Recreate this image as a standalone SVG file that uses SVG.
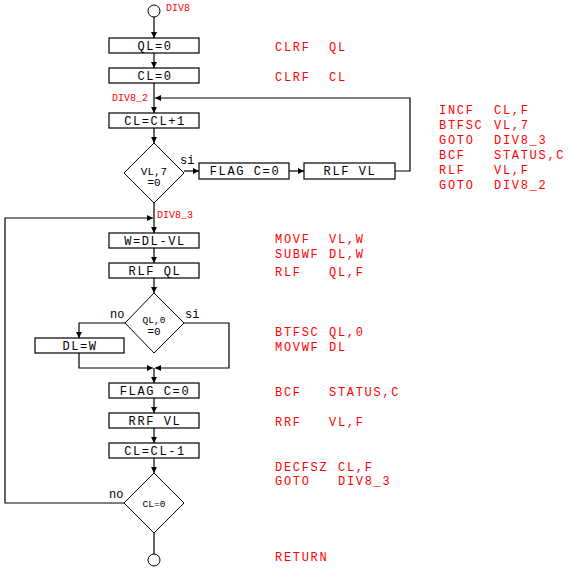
<svg xmlns="http://www.w3.org/2000/svg" width="568" height="569" viewBox="0 0 568 569">
<style>
.bg{fill:#fff}
.box{fill:#fff;stroke:#000;stroke-width:1.2}
.dia{fill:#fff;stroke:#000;stroke-width:1}
.term{fill:#fff;stroke:#000;stroke-width:1}
.bt{font-family:"Liberation Mono",monospace;font-size:12px;letter-spacing:1.6px;fill:#000;text-anchor:middle}
.dt{font-family:"Liberation Mono",monospace;font-size:11px;fill:#000;text-anchor:middle}
.ds{font-family:"Liberation Mono",monospace;font-size:9.5px;fill:#000;text-anchor:middle}
.lb{font-family:"Liberation Mono",monospace;font-size:12px;fill:#000}
.code{font-family:"Liberation Mono",monospace;font-size:12px;letter-spacing:1.7px;fill:#f00}
.tag{font-family:"Liberation Mono",monospace;font-size:10px;fill:#f00}
.con{fill:none;stroke:#000;stroke-width:1.2}
</style>
<defs>
<marker id="ah" viewBox="0 0 6 6" refX="6" refY="3" markerWidth="6" markerHeight="6" markerUnits="userSpaceOnUse" orient="auto">
<path d="M0,0 L6,3 L0,6 z" fill="#000"/>
</marker>
</defs>
<rect class="bg" x="0" y="0" width="568" height="569"/>
<g id="connectors">
<path class="con" d="M154,17 V38" marker-end="url(#ah)"/>
<path class="con" d="M154,53 V68" marker-end="url(#ah)"/>
<path class="con" d="M154,83 V113" marker-end="url(#ah)"/>
<path class="con" d="M154,128 V143" marker-end="url(#ah)"/>
<path class="con" d="M184,171 H199" marker-end="url(#ah)"/>
<path class="con" d="M289,171 H304" marker-end="url(#ah)"/>
<path class="con" d="M395,171 H410 V98 H155" marker-end="url(#ah)"/>
<path class="con" d="M154,203 V233" marker-end="url(#ah)"/>
<path class="con" d="M124,503 H5 V218 H153" marker-end="url(#ah)"/>
<path class="con" d="M154,248 V263" marker-end="url(#ah)"/>
<path class="con" d="M154,278 V293" marker-end="url(#ah)"/>
<path class="con" d="M125,323 H79 V338" marker-end="url(#ah)"/>
<path class="con" d="M184,323 H229 V368 H155" marker-end="url(#ah)"/>
<path class="con" d="M79,353 V368 H153" marker-end="url(#ah)"/>
<path class="con" d="M154,368 V383" marker-end="url(#ah)"/>
<path class="con" d="M154,398 V413" marker-end="url(#ah)"/>
<path class="con" d="M154,428 V443" marker-end="url(#ah)"/>
<path class="con" d="M154,458 V473" marker-end="url(#ah)"/>
<path class="con" d="M154,533 V554"/>
</g>
<g id="start"><circle class="term" cx="154" cy="11" r="6"/><text class="tag" x="166" y="11">DIV8</text></g>
<g id="n_ql0"><rect class="box" x="109" y="38" width="90" height="15"/><text class="bt" x="155" y="50">QL=0</text></g>
<g id="n_cl0"><rect class="box" x="109" y="68" width="90" height="15"/><text class="bt" x="155" y="80">CL=0</text></g>
<g id="lbl_div8_2"><text class="tag" x="112" y="101">DIV8_2</text></g>
<g id="n_inc"><rect class="box" x="109" y="113" width="90" height="15"/><text class="bt" x="155" y="125">CL=CL+1</text></g>
<g id="d_vl7"><path class="dia" d="M154,143 L184,173 L154,203 L124,173 Z"/><text class="dt" x="154" y="175">VL,7</text><text class="dt" x="154" y="186">=0</text><text class="lb" x="180" y="164">si</text></g>
<g id="n_flag1"><rect class="box" x="199" y="163" width="90" height="16"/><text class="bt" x="245" y="175">FLAG C=0</text></g>
<g id="n_rlfvl"><rect class="box" x="304" y="163" width="91" height="16"/><text class="bt" x="350" y="175">RLF VL</text></g>
<g id="lbl_div8_3"><text class="tag" x="157" y="218">DIV8_3</text></g>
<g id="n_sub"><rect class="box" x="109" y="233" width="90" height="15"/><text class="bt" x="155" y="245">W=DL-VL</text></g>
<g id="n_rlfql"><rect class="box" x="109" y="263" width="90" height="15"/><text class="bt" x="155" y="275">RLF QL</text></g>
<g id="d_ql0"><path class="dia" d="M154,293 L184,323 L154,353 L125,323 Z"/><text class="ds" x="154" y="323">QL,0</text><text class="dt" x="154" y="335">=0</text><text class="lb" x="110" y="318">no</text><text class="lb" x="185" y="318">si</text></g>
<g id="n_dlw"><rect class="box" x="35" y="338" width="89" height="15"/><text class="bt" x="80" y="350">DL=W</text></g>
<g id="n_flag2"><rect class="box" x="109" y="383" width="90" height="15"/><text class="bt" x="155" y="395">FLAG C=0</text></g>
<g id="n_rrf"><rect class="box" x="109" y="413" width="90" height="15"/><text class="bt" x="155" y="425">RRF VL</text></g>
<g id="n_dec"><rect class="box" x="109" y="443" width="90" height="15"/><text class="bt" x="155" y="455">CL=CL-1</text></g>
<g id="d_cl0"><path class="dia" d="M154,473 L184,503 L154,533 L124,503 Z"/><text class="ds" x="154" y="507">CL=0</text><text class="lb" x="109" y="498">no</text></g>
<g id="end"><circle class="term" cx="154" cy="560" r="6"/></g>
<g id="code">
<text class="code" x="275" y="51">CLRF</text><text class="code" x="329" y="51">QL</text>
<text class="code" x="275" y="81">CLRF</text><text class="code" x="329" y="81">CL</text>
<text class="code" x="439" y="114">INCF</text><text class="code" x="494" y="114">CL,F</text>
<text class="code" x="439" y="129">BTFSC</text><text class="code" x="494" y="129">VL,7</text>
<text class="code" x="439" y="144">GOTO</text><text class="code" x="494" y="144">DIV8_3</text>
<text class="code" x="439" y="159">BCF</text><text class="code" x="494" y="159">STATUS,C</text>
<text class="code" x="439" y="174">RLF</text><text class="code" x="494" y="174">VL,F</text>
<text class="code" x="439" y="189">GOTO</text><text class="code" x="494" y="189">DIV8_2</text>
<text class="code" x="275" y="243">MOVF</text><text class="code" x="329" y="243">VL,W</text>
<text class="code" x="275" y="258">SUBWF</text><text class="code" x="329" y="258">DL,W</text>
<text class="code" x="275" y="276">RLF</text><text class="code" x="329" y="276">QL,F</text>
<text class="code" x="275" y="336">BTFSC</text><text class="code" x="329" y="336">QL,0</text>
<text class="code" x="275" y="351">MOVWF</text><text class="code" x="329" y="351">DL</text>
<text class="code" x="275" y="396">BCF</text><text class="code" x="329" y="396">STATUS,C</text>
<text class="code" x="275" y="426">RRF</text><text class="code" x="329" y="426">VL,F</text>
<text class="code" x="275" y="471">DECFSZ</text><text class="code" x="338" y="471">CL,F</text>
<text class="code" x="275" y="485">GOTO</text><text class="code" x="338" y="485">DIV8_3</text>
<text class="code" x="275" y="561">RETURN</text>
</g>
</svg>
